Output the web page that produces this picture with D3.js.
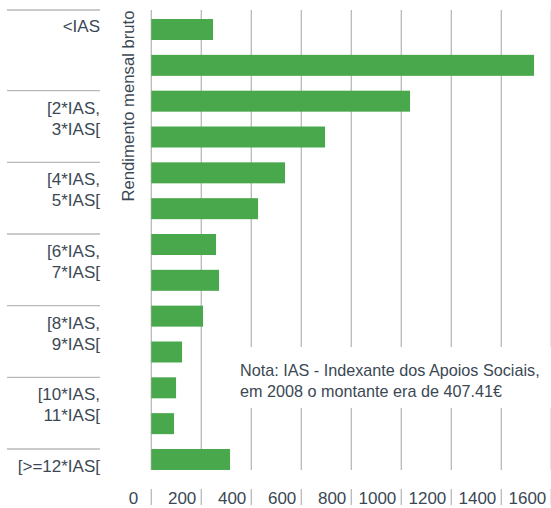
<!DOCTYPE html>
<html lang="pt">
<head>
<meta charset="UTF-8">
<title>Rendimento mensal bruto</title>
<script src="https://d3js.org/d3.v7.min.js"></script>
<style>
    body { margin: 0; background: #fff; }
    text { font-family: "Liberation Sans", Arial, sans-serif; fill: #3b4854; }
</style>
</head>
<body>
<div id="chart"></div>
<script>
// categorias (escalões de rendimento)
const categories = ["<IAS", "[IAS, 2*IAS[", "[2*IAS, 3*IAS[", "[3*IAS, 4*IAS[", "[4*IAS, 5*IAS[",
    "[5*IAS, 6*IAS[", "[6*IAS, 7*IAS[", "[7*IAS, 8*IAS[", "[8*IAS, 9*IAS[", "[9*IAS, 10*IAS[",
    "[10*IAS, 11*IAS[", "[11*IAS, 12*IAS[", "[>=12*IAS["];
const values = [247, 1531, 1035, 695, 535, 427, 259, 271, 207, 123, 99, 91, 315];
const tickValues = [0, 200, 400, 600, 800, 1000, 1200, 1400, 1600];
const axisTitle = "Rendimento mensal bruto";
const noteLines = ["Nota: IAS - Indexante dos Apoios Sociais,", "em 2008 o montante era de 407.41€"];

const width = 551, height = 508;
const gridTop = 10, gridBottom = 470;

const svg = d3.select("#chart").append("svg")
    .attr("width", width)
    .attr("height", height);

const x = d3.scaleLinear().domain([0, 1600]).range([151.3, 551.3]);
const y = d3.scaleBand()
    .domain(categories)
    .range([11.6, 11.6 + 13 * 35.83])
    .paddingInner(0.414)
    .paddingOuter(0.207);

// grelha vertical
svg.append("g").selectAll("line")
    .data(tickValues)
    .join("line")
    .attr("x1", d => x(d)).attr("x2", d => x(d))
    .attr("y1", gridTop).attr("y2", gridBottom)
    .attr("stroke", "#b9b9b9")
    .attr("stroke-width", 1.3);

// barras
svg.append("g").selectAll("rect")
    .data(categories)
    .join("rect")
    .attr("x", x(0))
    .attr("y", d => y(d))
    .attr("width", (d, i) => x(values[i]) - x(0))
    .attr("height", y.bandwidth())
    .attr("fill", "#4aa84c");

// rótulos do eixo y (um em cada dois)
const shown = categories.filter((d, i) => i % 2 === 0);
const sepYs = [gridTop].concat(shown.slice(1).map(d => y(d)));
svg.append("g").selectAll("line")
    .data(sepYs)
    .join("line")
    .attr("x1", 7).attr("x2", 100)
    .attr("y1", d => d).attr("y2", d => d)
    .attr("stroke", "#b9b9b9")
    .attr("stroke-width", 1.3);

const yLabels = svg.append("g").selectAll("text")
    .data(shown)
    .join("text")
    .attr("text-anchor", "end")
    .style("font-size", "17px")
    .attr("y", (d, i) => y(d) + (i === 0 ? 13 : 23));
yLabels.each(function (d) {
    const parts = d.split(", ");
    const t = d3.select(this);
    parts.forEach((p, j) => {
        t.append("tspan")
            .attr("x", 100)
            .attr("dy", j === 0 ? 0 : 21)
            .text(parts.length > 1 && j === 0 ? p + "," : p);
    });
});

// título do eixo
svg.append("text")
    .attr("transform", "translate(134,106) rotate(-90)")
    .attr("text-anchor", "middle")
    .style("font-size", "16.7px")
    .text(axisTitle);

// eixo x
svg.append("g").selectAll("line")
    .data(tickValues)
    .join("line")
    .attr("x1", d => x(d)).attr("x2", d => x(d))
    .attr("y1", 489).attr("y2", 505)
    .attr("stroke", "#b9b9b9")
    .attr("stroke-width", 1.3);
svg.append("g").selectAll("text")
    .data(tickValues)
    .join("text")
    .attr("x", d => x(d) - (d === 0 ? 13 : 5))
    .attr("y", 504)
    .attr("text-anchor", "end")
    .style("font-size", "17px")
    .text(d => d);

// nota
svg.append("rect")
    .attr("x", 233).attr("y", 347)
    .attr("width", width - 233).attr("height", 61)
    .attr("fill", "#fff");
svg.append("g").selectAll("text")
    .data(noteLines)
    .join("text")
    .attr("x", 240)
    .attr("y", (d, i) => 376 + i * 21)
    .style("font-size", "16.2px")
    .text(d => d);
</script>
</body>
</html>
